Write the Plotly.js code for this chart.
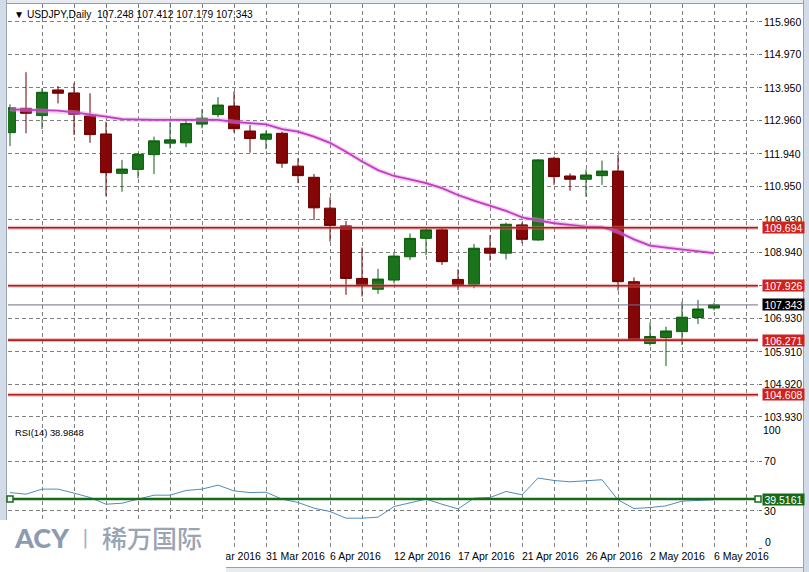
<!DOCTYPE html>
<html><head><meta charset="utf-8">
<script src="https://cdn.plot.ly/plotly-3.0.1.min.js"></script>
<style>
html,body{margin:0;padding:0;background:#fff;}
#wrap{position:relative;width:809px;height:572px;overflow:hidden;background:#fff;}
.strip{position:absolute;background:#d2dce8;}
#chart{position:absolute;left:0;top:0;width:809px;height:572px;}
</style></head>
<body><div id="wrap">
<div class="strip" style="left:0;top:0;width:6px;height:572px;border-right:1px solid #9aa4b0"></div>
<div class="strip" style="right:0;top:0;width:5px;height:572px;border-left:1px solid #9aa4b0"></div>
<div style="position:absolute;left:7px;right:6px;top:0;height:3px;background:#e8ebef;border-bottom:1px solid #9a9a9a"></div>
<div style="position:absolute;left:7px;right:6px;top:567px;height:5px;background:#e8ebef;border-top:1px solid #a0a0a0"></div>
<div id="chart"></div></div>
<script>
// ---------- data ----------
const dates = ['9 Mar 2016','10 Mar 2016','11 Mar 2016','14 Mar 2016','15 Mar 2016','16 Mar 2016','17 Mar 2016','18 Mar 2016',
 '21 Mar 2016','22 Mar 2016','23 Mar 2016','24 Mar 2016','25 Mar 2016','28 Mar 2016','29 Mar 2016','30 Mar 2016',
 '31 Mar 2016','1 Apr 2016','4 Apr 2016','5 Apr 2016','6 Apr 2016','7 Apr 2016','8 Apr 2016','11 Apr 2016',
 '12 Apr 2016','13 Apr 2016','14 Apr 2016','15 Apr 2016','17 Apr 2016','18 Apr 2016','19 Apr 2016','20 Apr 2016',
 '21 Apr 2016','22 Apr 2016','24 Apr 2016','25 Apr 2016','26 Apr 2016','27 Apr 2016','28 Apr 2016','29 Apr 2016',
 '2 May 2016','3 May 2016','4 May 2016','5 May 2016','6 May 2016'];
const open  = [112.59,113.33,113.11,113.89,113.80,113.10,112.55,111.35,111.47,111.92,112.27,112.28,112.85,113.14,113.40,112.64,
 112.39,112.57,111.57,111.23,110.29,109.75,108.15,107.82,108.10,108.81,109.37,109.63,108.12,107.97,109.07,108.92,
 109.78,109.32,111.81,111.27,111.17,111.28,111.42,108.05,106.17,106.35,106.53,106.96,107.248];
const high  = [113.45,114.43,113.94,114.01,114.10,113.79,112.92,111.76,111.96,112.47,112.92,112.98,113.30,113.67,113.84,112.82,
 112.65,112.62,111.81,111.33,110.62,109.90,109.09,108.44,108.92,109.52,109.66,109.68,108.43,109.20,109.47,109.85,
 109.85,111.78,111.86,111.35,111.47,111.74,111.91,108.18,106.80,106.68,107.44,107.49,107.412];
const low   = [112.18,112.57,112.70,113.48,112.52,112.28,110.66,110.79,111.20,111.33,112.11,112.15,112.72,113.06,112.59,111.98,
 112.08,111.52,111.05,109.93,109.27,107.65,107.60,107.68,108.00,108.71,108.86,108.56,107.80,107.85,108.69,108.73,
 109.22,109.30,111.00,110.82,110.64,111.00,107.78,106.26,106.10,105.48,106.12,106.76,107.179];
const close = [113.35,113.18,113.82,113.79,113.15,112.53,111.37,111.48,111.93,112.34,112.37,112.87,113.03,113.43,112.71,112.41,
 112.55,111.66,111.28,110.30,109.76,108.15,107.95,108.13,108.83,109.37,109.63,108.66,107.95,109.07,108.92,109.80,
 109.34,111.76,111.25,111.17,111.30,111.42,108.05,106.28,106.38,106.55,106.97,107.22,107.343];
const ma = [113.30,113.28,113.28,113.26,113.21,113.15,113.08,113.00,112.98,112.98,112.98,112.98,112.98,112.98,112.92,112.87,
 112.84,112.70,112.62,112.47,112.28,112.01,111.71,111.45,111.27,111.17,111.05,110.90,110.69,110.52,110.36,110.21,
 110.01,109.93,109.83,109.78,109.73,109.71,109.57,109.34,109.15,109.09,109.04,108.99,108.92];
const rsi = [44.8,43.5,47.6,47.6,44.4,40.8,35.4,36.2,39.5,42.7,42.7,46.5,47.6,50.8,46.2,44.8,
 45.1,39.5,36.8,32.2,29.5,24.1,24.1,24.9,33.5,36.7,39.5,35.4,31.6,40.3,40.8,45.7,
 43.0,56.5,54.6,53.5,54.3,55.2,38.9,31.9,32.7,34.1,37.9,38.7,38.98];
const levels = [109.694, 107.926, 106.271, 104.608];
const bidPrice = 107.343;
const rsiLevel = 39.5161;
const rsiLast = '38.9848';
const priceTicks = [115.960,114.970,113.950,112.960,111.940,110.950,109.930,108.940,107.920,106.930,105.910,104.920,103.930];
const rsiTicks = [0, 30, 70];
const labelDates = ['25 Mar 2016','31 Mar 2016','6 Apr 2016','12 Apr 2016','17 Apr 2016','21 Apr 2016','26 Apr 2016','2 May 2016','6 May 2016'];
const headerText = '\u25BC\u00A0USDJPY,Daily\u00A0\u00A0107.248 107.412 107.179 107.343';
const rsiTitle = 'RSI(14) ' + rsiLast;

// ---------- build ----------
const idx = dates.map((d, i) => i);
const xMin = -0.125, xMax = 46.75;
const gridVals = [];
for (let v = 2; v <= 46; v += 2) gridVals.push(v);
const gridText = gridVals.map(v => (dates[v] && labelDates.includes(dates[v])) ? dates[v] : '');

const GRID = '#7f7f7f', DASH = '4px,3px';
const FONT = 'Liberation Sans, Arial, sans-serif';

const traces = [
  {type:'candlestick', x: idx, open, high, low, close, xaxis:'x', yaxis:'y', hoverinfo:'skip',
   increasing:{line:{color:'#0f5e0f', width:1}, fillcolor:'#1b731b'},
   decreasing:{line:{color:'#6a0000', width:1}, fillcolor:'#850606'}, showlegend:false},
  {type:'scatter', mode:'lines', x: idx, y: ma, xaxis:'x', yaxis:'y', line:{color:'rgba(225,150,225,0.45)', width:4.5}, hoverinfo:'skip', showlegend:false},
  {type:'scatter', mode:'lines', x: idx, y: ma, xaxis:'x', yaxis:'y', line:{color:'#c23cc2', width:1.8}, hoverinfo:'skip', showlegend:false},
  {type:'scatter', mode:'lines', x: idx, y: rsi, xaxis:'x', yaxis:'y2', line:{color:'#4f8dbb', width:1}, hoverinfo:'skip', showlegend:false},
  {type:'scatter', mode:'lines+markers', x:[0, xMax], y:[rsiLevel, rsiLevel], xaxis:'x', yaxis:'y2', cliponaxis:false,
   line:{color:'#17691a', width:2.5}, marker:{symbol:'square', size:6, color:'#fff', line:{color:'#17691a', width:1.5}},
   hoverinfo:'skip', showlegend:false}
];

const shapes = [];
levels.forEach(l => {
  shapes.push({type:'line', xref:'paper', x0:0, x1:1, yref:'y', y0:l, y1:l, line:{color:'rgba(225,120,120,0.45)', width:4}, layer:'above'});
  shapes.push({type:'line', xref:'paper', x0:0, x1:1, yref:'y', y0:l, y1:l, line:{color:'#ad1d1d', width:1.6}, layer:'above'});
});
shapes.push({type:'line', xref:'paper', x0:0, x1:1, yref:'y', y0:bidPrice, y1:bidPrice, line:{color:'#6f6f88', width:1}, layer:'above'});
// watermark backing
shapes.push({type:'rect', xref:'paper', yref:'paper', x0:-0.0107, x1:0.2907, y0:-0.0441, y1:0.0515, fillcolor:'#ffffff', line:{width:0}, layer:'above'});

const boxAnn = (val, txt, yref, bg) => ({x:1, xref:'paper', xanchor:'left', xshift:4, y:val, yref:yref, yanchor:'middle',
  text:txt, showarrow:false, bgcolor:bg, borderpad:1, width:39, height:9,
  font:{family:FONT, size:10.5, color:'#ffffff'}});

const annotations = [];
levels.forEach(l => annotations.push(boxAnn(l, l.toFixed(3), 'y', '#d0211e')));
annotations.push(boxAnn(bidPrice, bidPrice.toFixed(3), 'y', '#000000'));
annotations.push(boxAnn(rsiLevel, rsiLevel.toFixed(4), 'y2', '#17691a'));
annotations.push({x:1, xref:'paper', xanchor:'left', xshift:3, y:100, yref:'y2', yanchor:'middle', yshift:-6, text:'100', showarrow:false, font:{family:FONT, size:10.5, color:'#000'}});
annotations.push({x:1, xref:'paper', xanchor:'left', xshift:5, y:0, yref:'y2', yanchor:'middle', yshift:6, text:'0', showarrow:false, font:{family:FONT, size:10.5, color:'#000'}});
annotations.push({x:0.0053, xref:'paper', xanchor:'left', y:0.9798, yref:'paper', yanchor:'middle', text:headerText, showarrow:false, font:{family:FONT, size:10.2, color:'#000'}});
annotations.push({x:0.0067, xref:'paper', xanchor:'left', y:0.2132, yref:'paper', yanchor:'middle', text:rsiTitle, showarrow:false, font:{family:FONT, size:9.4, color:'#000'}});
// logo
annotations.push({x:0.0053, xref:'paper', xanchor:'left', y:0.0202, yref:'paper', yanchor:'middle', text:'ACY', showarrow:false, font:{family:'Lato, Roboto, sans-serif', size:27, weight:900, color:'#8d9bb2'}});
annotations.push({x:0.1027, xref:'paper', xanchor:'center', y:0.0202, yref:'paper', yanchor:'middle', text:'|', showarrow:false, font:{family:'DejaVu Sans', size:20, color:'#aab2bf'}});
annotations.push({x:0.1227, xref:'paper', xanchor:'left', y:0.0202, yref:'paper', yanchor:'middle', text:'稀万国际', showarrow:false, font:{family:'Noto Sans CJK SC', size:25, weight:500, color:'#9aa4b3'}});

const layout = {
  width:809, height:572,
  margin:{l:8, r:51, t:4, b:24, pad:0},
  paper_bgcolor:'rgba(0,0,0,0)', plot_bgcolor:'rgba(0,0,0,0)',
  font:{family:FONT, size:10.5, color:'#000'},
  showlegend:false,
  boxgap:0.32, boxgroupgap:0,
  xaxis:{anchor:'y2', range:[xMin, xMax], tickmode:'array', tickvals:gridVals, ticktext:gridText, tickangle:0,
         ticklabelposition:'outside right', ticks:'', showgrid:true, gridcolor:GRID, griddash:DASH, gridwidth:1,
         zeroline:false, showline:false, rangeslider:{visible:false}, automargin:false,
         tickfont:{family:FONT, size:10.5, color:'#000'}},
  yaxis:{domain:[0.2298, 1], range:[103.747, 116.508], side:'right', anchor:'x', tickmode:'array', tickvals:priceTicks,
         tickformat:'.3f', ticks:'outside', ticklen:3, tickcolor:'#666', showgrid:true, gridcolor:GRID, griddash:DASH,
         zeroline:false, showline:false, automargin:false, tickfont:{family:FONT, size:10.5, color:'#000'}},
  yaxis2:{domain:[0, 0.2274], range:[0, 100], side:'right', anchor:'x', tickmode:'array', tickvals:rsiTicks,
          ticktext:rsiTicks.map(v => v === 0 ? '' : String(v)), ticks:'outside', ticklen:3, tickcolor:'#666',
          showgrid:true, gridcolor:GRID, griddash:DASH, zeroline:false, showline:false, automargin:false,
          tickfont:{family:FONT, size:10.5, color:'#000'}},
  shapes, annotations
};

Plotly.newPlot('chart', traces, layout, {staticPlot:true, displayModeBar:false});
</script>
</body></html>
